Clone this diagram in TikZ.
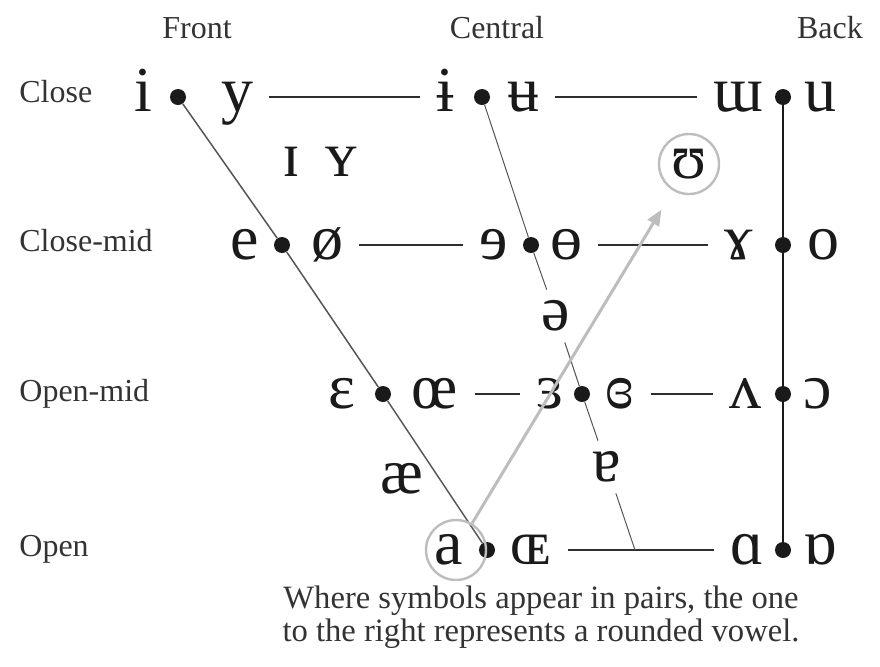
\documentclass[tikz,border=0pt]{standalone}
\usepackage{fontspec}
\setmainfont{Liberation Serif}
\usetikzlibrary{positioning, arrows.meta}
\definecolor{ipaInk}{HTML}{1A1A1A}
\definecolor{ipaLabel}{HTML}{333333}
\definecolor{ipaRung}{HTML}{2E2E2E}
\definecolor{ipaSlant}{HTML}{555555}
\definecolor{ipaHint}{HTML}{BDBDBD}

\begin{document}
\begin{tikzpicture}[x=0.5pt, y=-0.5pt,
    vowel/.style={font=\fontsize{32}{32}\selectfont, text=ipaInk,
      text height=14pt, text depth=0pt, inner xsep=8pt, inner ysep=6pt},
    dot/.style={circle, fill=ipaInk, inner sep=0pt, minimum size=8pt},
    axislab/.style={font=\fontsize{16}{16}\selectfont, text=ipaLabel, anchor=base},
    rowlab/.style={axislab, anchor=base west, inner sep=0pt},
    rung/.style={draw=ipaRung, line width=1pt},
    spine/.style={draw=ipaInk, line width=1.2pt},
    slantF/.style={draw=ipaSlant, line width=0.75pt},
    slantC/.style={draw=ipaSlant, line width=0.5pt},
    ring/.style={circle, draw=ipaHint, line width=1.2pt, minimum size=30pt, inner sep=0pt},
    hint/.style={draw=ipaHint, line width=1.5pt, -{Triangle[length=8pt, width=6.5pt]}}]
  \useasboundingbox (0,0) rectangle (880,666);
  % Column and row headings
  \foreach \lab/\x in {Front/197, Central/497, Back/830}
    \node[axislab] (col\lab) at (\x,38) {\lab};
  \foreach \lab/\y in {Close/102, Close-mid/251, Open-mid/401, Open/556}
    \node[rowlab] (row\y) at (19,\y) {\lab};
  % Dots of the chart (front, central, back)
  \foreach \nm/\x/\y in {dCF/178/97, dCC/482/97, dCB/783/97,
      dMF/282/245, dMC/531/245, dMB/783/245,
      dOF/383/394, dOC/582/394, dOB/783/394,
      dLF/487/550, dLB/783/550}
    \node[dot] (\nm) at (\x,\y) {};
  % Vowels: name/symbol/x/y
  \foreach \nm/\sym/\x/\y in {i/i/143/97, y/y/237/97, ibar/ɨ/445/97,
      ubar/ʉ/523/97, wturn/ɯ/738/97, u/u/820/97,
      e/e/245/245, oslash/ø/327/245, erev/ɘ/494/245, obar/ɵ/566/245,
      gam/ɤ/739/245, o/o/823/245,
      eps/ɛ/342/394, oe/œ/435/394, rev3/ɜ/550/394, cloe/ɞ/620/394,
      wedge/ʌ/745/394, oturn/ɔ/818/394,
      a/a/449/550, OE/ɶ/531/550, alpha/ɑ/747/550, alphaT/ɒ/820/550,
      smallI/ɪ/291/162, smallY/ʏ/341/162, upsilon/ʊ/689/164,
      ash/æ/402/479, schwa/ə/556/316, turna/ɐ/607/467}
    \node[vowel] (\nm) at (\x,\y) {\sym};
  \coordinate (cBot) at (635,550);
  % Horizontal rungs
  \foreach \p/\q in {y/ibar, ubar/wturn, oslash/erev, obar/gam,
      oe/rev3, cloe/wedge, OE/alpha}
    \draw[rung] (\p) -- (\q);
  % Front, central and back edges
  \draw[slantF] (dCF) -- (dMF) -- (dOF) -- (dLF);
  \draw[slantC] (dCC) -- (dMC) -- (schwa) (schwa) -- (dOC) -- (turna)
    (turna) -- (cBot);
  \draw[spine] (dCB) -- (dMB) -- (dOB) -- (dLB);
  % Circled example and arrow
  \node[ring] (ringA) at ([xshift=3.5pt]a.center) {};
  \node[ring] (ringU) at (upsilon.center) {};
  \draw[hint, shorten >=11pt] (ringA) -- (ringU);
  % Note
  \node[font=\fontsize{16.3}{16.5}\selectfont, text=ipaLabel, align=center]
    (note) at (541,617) {Where symbols appear in pairs, the one\\
    to the right represents a rounded vowel.};
\end{tikzpicture}
\end{document}
